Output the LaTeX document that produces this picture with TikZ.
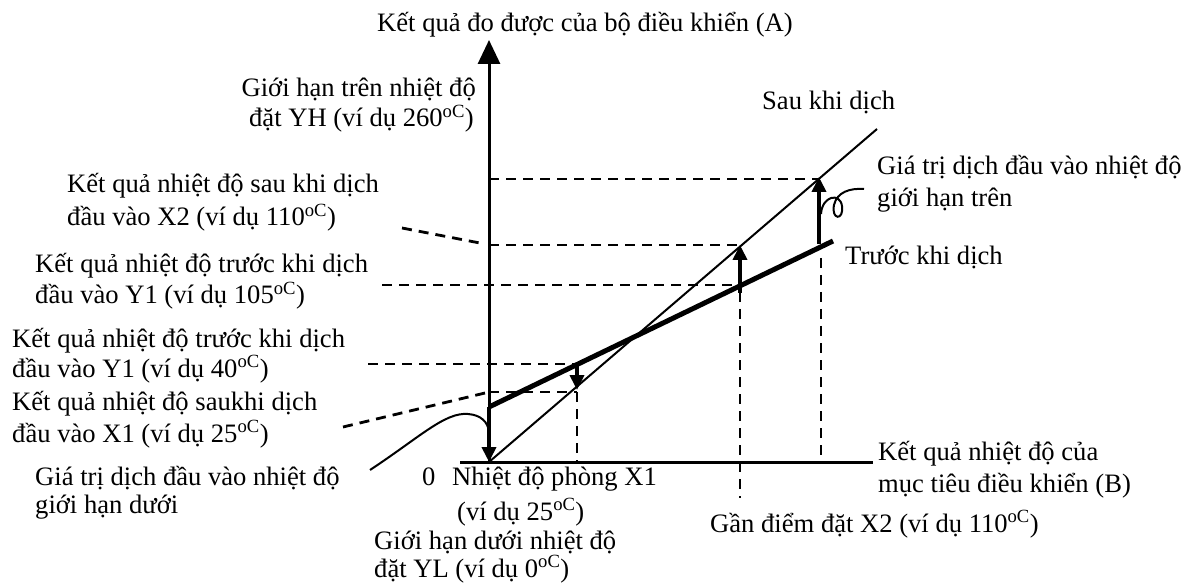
\documentclass[tikz,border=0pt]{standalone}
\usepackage{fontspec}
\setmainfont{Liberation Serif}
\usetikzlibrary{arrows.meta}
\begin{document}
\begin{tikzpicture}[x=1pt,y=-1pt,
  lbl/.style={inner sep=0pt,font=\fontsize{26.6}{31}\selectfont},
  axisline/.style={line width=3pt},
  dashline/.style={line width=2.8pt,dash pattern=on 10pt off 7pt},
  thickarrow/.style={line width=4.5pt,-{Triangle[width=14pt,length=15pt]}},
  beforeline/.style={line width=5pt},
  afterline/.style={line width=2pt},
  curveline/.style={line width=2pt}]
\useasboundingbox (0,0) rectangle (1194,585);
% key points
\coordinate (O) at (489,462);
\coordinate (Ytop) at (489,40);
\coordinate (Xl) at (460,462);
\coordinate (Xr) at (873,462);
\coordinate (B0) at (489,407);
\coordinate (B1) at (833,241);
\coordinate (A1) at (877,129);
% dashed
\coordinate (d1a) at (489,179); \coordinate (d1b) at (819,179);
\coordinate (d2a) at (489,245); \coordinate (d2b) at (740,245);
\coordinate (d2c) at (402,228); \coordinate (d2d) at (485,244);
\coordinate (d3a) at (382,285); \coordinate (d3b) at (740,285);
\coordinate (d4a) at (368,364); \coordinate (d4b) at (577,364);
\coordinate (d5a) at (489,392); \coordinate (d5b) at (577,392);
\coordinate (d5c) at (343,427); \coordinate (d5d) at (485,393);
\coordinate (v1b) at (577,462);
\coordinate (v2a) at (740,292); \coordinate (v2b) at (740,498);
\coordinate (v3a) at (821,258); \coordinate (v3b) at (821,462);
% arrows
\coordinate (a2s) at (577,364); \coordinate (a2e) at (577,390);
\coordinate (a3s) at (740,293); \coordinate (a3e) at (740,245);
\coordinate (a4s) at (819,244); \coordinate (a4e) at (819,177);
% curve ends
\coordinate (c0) at (370,470); \coordinate (c1) at (468,414); \coordinate (c2) at (489,432);
\coordinate (l0) at (821,214); \coordinate (l1) at (864,189);

\draw[dashline] (d1a) -- (d1b);
\draw[dashline] (d2a) -- (d2b);
\draw[dashline] (d2c) -- (d2d);
\draw[dashline] (d3a) -- (d3b);
\draw[dashline] (d4a) -- (d4b);
\draw[dashline] (d5a) -- (d5b);
\draw[dashline] (d5c) -- (d5d);
\draw[dashline] (d5b) -- (v1b);
\draw[dashline] (v2a) -- (v2b);
\draw[dashline] (v3a) -- (v3b);

\draw[axisline,-{Triangle[width=22pt,length=24pt]}] (O) -- (Ytop);
\draw[axisline] (Xl) -- (Xr);
\draw[beforeline] (B0) -- (B1);
\draw[afterline] (O) -- (A1);
\draw[curveline] (c0) .. controls (420,437) and (445,412) .. (c1) .. controls (481,415) and (488,422) .. (c2);
\draw[line width=2pt] (l0) .. controls (822,196) and (840,192) .. (842,206) .. controls (844,221) and (831,220) .. (834,205) .. controls (837,192) and (850,188) .. (l1);

\draw[thickarrow] (B0) -- (O);
\draw[thickarrow] (a2s) -- (a2e);
\draw[thickarrow] (a3s) -- (a3e);
\draw[thickarrow] (a4s) -- (a4e);

% labels
\node[lbl,anchor=base west] (t1) at (377,32) {Kết quả đo được của bộ điều khiển (A)};
\node[lbl,anchor=base east] (t2a) at (476,97) {Giới hạn trên nhiệt độ};
\node[lbl,anchor=base east] (t2b) at (474,127) {đặt YH (ví dụ 260\textsuperscript{oC})};
\node[lbl,anchor=base west] (t3a) at (67,193) {Kết quả nhiệt độ sau khi dịch};
\node[lbl,anchor=base west] (t3b) at (67,226) {đầu vào X2 (ví dụ 110\textsuperscript{oC})};
\node[lbl,anchor=base west] (t4a) at (35,273) {Kết quả nhiệt độ trước khi dịch};
\node[lbl,anchor=base west] (t4b) at (35,304) {đầu vào Y1 (ví dụ 105\textsuperscript{oC})};
\node[lbl,anchor=base west] (t5a) at (12,347) {Kết quả nhiệt độ trước khi dịch};
\node[lbl,anchor=base west] (t5b) at (12,377) {đầu vào Y1 (ví dụ 40\textsuperscript{oC})};
\node[lbl,anchor=base west] (t6a) at (12,410) {Kết quả nhiệt độ saukhi dịch};
\node[lbl,anchor=base west] (t6b) at (12,442) {đầu vào X1 (ví dụ 25\textsuperscript{oC})};
\node[lbl,anchor=base west] (t7a) at (35,485) {Giá trị dịch đầu vào nhiệt độ};
\node[lbl,anchor=base west] (t7b) at (35,513) {giới hạn dưới};
\node[lbl,anchor=base west] (t8a) at (374,549) {Giới hạn dưới nhiệt độ};
\node[lbl,anchor=base west] (t8b) at (374,577) {đặt YL (ví dụ 0\textsuperscript{oC})};
\node[lbl,anchor=base west] (t9) at (422,485) {0};
\node[lbl,anchor=base west] (t10a) at (452,485) {Nhiệt độ phòng X1};
\node[lbl,anchor=base west] (t10b) at (457,520) {(ví dụ 25\textsuperscript{oC})};
\node[lbl,anchor=base west] (t11) at (710,532) {Gần điểm đặt X2 (ví dụ 110\textsuperscript{oC})};
\node[lbl,anchor=base west] (t12a) at (878,460) {Kết quả nhiệt độ của};
\node[lbl,anchor=base west] (t12b) at (878,492) {mục tiêu điều khiển (B)};
\node[lbl,anchor=base west] (t13) at (762,110) {Sau khi dịch};
\node[lbl,anchor=base west] (t14a) at (877,175) {Giá trị dịch đầu vào nhiệt độ};
\node[lbl,anchor=base west] (t14b) at (877,207) {giới hạn trên};
\node[lbl,anchor=base west] (t15) at (845,265) {Trước khi dịch};
\end{tikzpicture}
\end{document}
